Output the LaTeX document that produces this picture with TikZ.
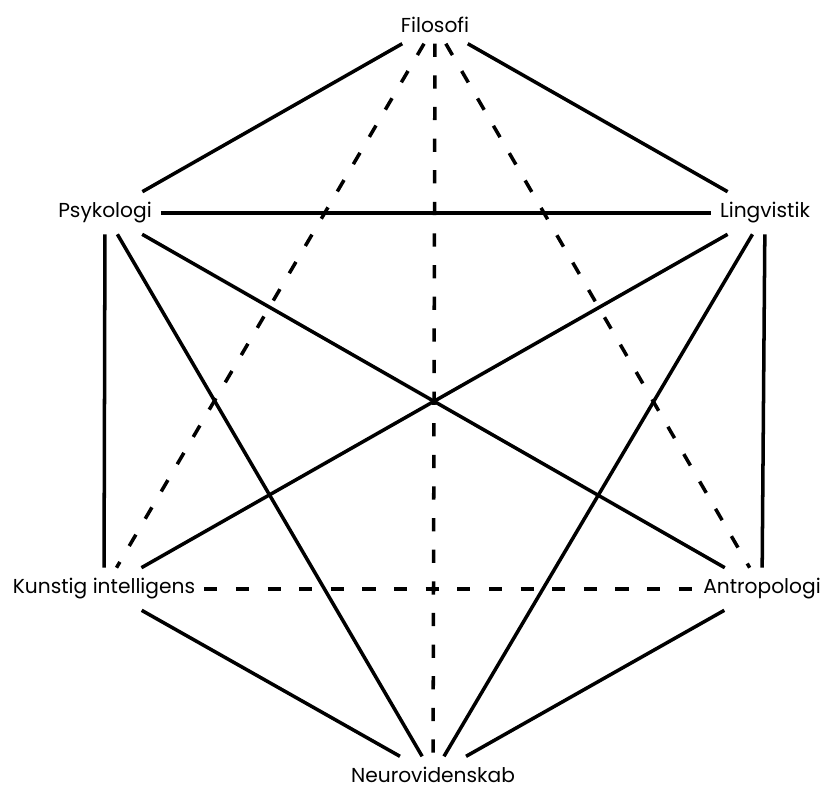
\documentclass[tikz,border=0pt]{standalone}
\usepackage{fontspec}
\setmainfont{Poppins}

\begin{document}
\begin{tikzpicture}[
  x=0.02cm, y=-0.02cm,
  field/.style={font=\fontsize{11.5}{13}\selectfont, inner xsep=5pt, inner ysep=6pt},
  link/.style={line width=2pt},
  dlink/.style={link, dash pattern=on 7.5pt off 10.5pt},
]
  \useasboundingbox (0,0) rectangle (825,788);

  % Disciplines
  \node[field] (fil) at (435,25) {Filosofi};
  \node[field] (psy) at (105,213) {Psykologi};
  \node[field] (lin) at (765,213) {Lingvistik};
  \node[field] (ki) at (104,589) {Kunstig intelligens};
  \node[field] (ant) at (762,589) {Antropologi};
  \node[field] (neu) at (433,775) {Neurovidenskab};

  % Solid links
  \draw[link] (fil) -- (psy);
  \draw[link] (fil) -- (lin);
  \draw[link] (psy) -- (lin);
  \draw[link] (psy) -- (ki);
  \draw[link] (psy) -- (ant);
  \draw[link] (psy) -- (neu);
  \draw[link] (lin) -- (ki);
  \draw[link] (lin) -- (ant);
  \draw[link] (lin) -- (neu);
  \draw[link] (ki) -- (neu);
  \draw[link] (ant) -- (neu);

  % Dashed links
  \draw[dlink] (fil) -- (ki);
  \draw[dlink] (fil) -- (neu);
  \draw[dlink] (fil) -- (ant);
  \draw[dlink] (ki) -- (ant);
\end{tikzpicture}
\end{document}
